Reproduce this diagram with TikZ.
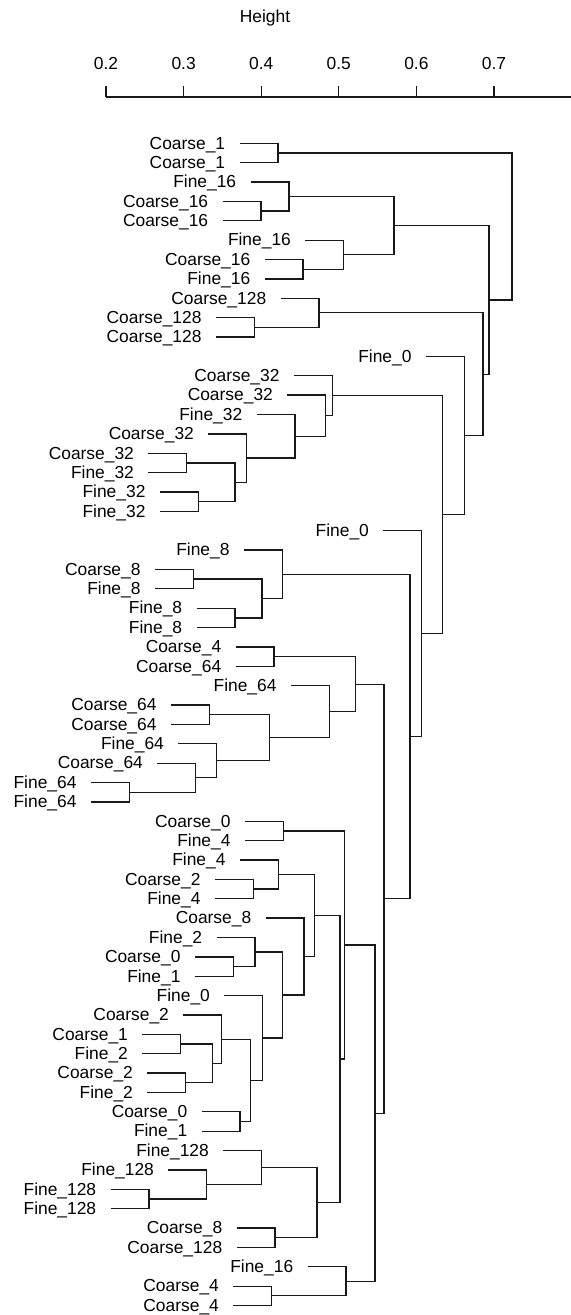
\documentclass[tikz,border=0pt]{standalone}
\usepackage{fontspec}
\setmainfont{Liberation Sans}
\usepackage{tikz}
\usepackage{xcolor}
\definecolor{noirtrait}{RGB}{25, 25, 25}
\tikzset{
  trait/.style={draw=noirtrait, line width=0.65pt},
  etiquette/.style={anchor=east, inner xsep=7pt, inner ysep=0pt,
                    text height=5.8pt, text depth=0pt,
                    font=\fontsize{8.7}{10}\selectfont},
  graduation/.style={inner sep=0pt, text height=5.8pt, text depth=0pt,
                     font=\fontsize{8.7}{10}\selectfont}
}
% une feuille : indice, texte, hauteur du noeud parent
\newcommand{\feuille}[3]{%
  \coordinate (f#1) at ({#3-0.0495},#1);
  \node[etiquette] (et#1) at (f#1) {#2};
}
% une jonction : nom, enfant 1, enfant 2, hauteur
\newcommand{\jonction}[4]{%
  \coordinate (hx) at (#4,0);
  \path (#2) -- (#3) coordinate[midway] (mil);
  \coordinate (#1) at (mil -| hx);
  \draw[trait] (#2) -- (#2 -| hx) -- (#3 -| hx) -- (#3);
}

\begin{document}
\begin{tikzpicture}[x=388pt, y={(0pt,-9.685pt)}]
  \useasboundingbox (0.0634,-7.398) rectangle (0.7992,60.49);

  % axe des hauteurs
  \node[graduation] (titre) at (0.4049,-6.536) {Height};
  \coordinate (axe0) at (0.2,-2.39);
  \coordinate (axe1) at (0.7992,-2.39);
  \draw[trait] (axe0) -- (axe1);
  \foreach \v [count=\k] in {0.2,0.3,0.4,0.5,0.6,0.7}{
    \draw[trait] (\v,-2.39) -- (\v,-2.958);
    \node[graduation] (grad\k) at (\v,-4.11) {\v};
  }

  % feuilles
  \foreach \k/\nom/\h in {
     0/Coarse\_1/0.4216,   1/Coarse\_1/0.4216,   2/Fine\_16/0.4358,
     3/Coarse\_16/0.3997,  4/Coarse\_16/0.3997,  5/Fine\_16/0.5063,
     6/Coarse\_16/0.4539,  7/Fine\_16/0.4539,    8/Coarse\_128/0.4745,
     9/Coarse\_128/0.3911, 10/Coarse\_128/0.3911, 11/Fine\_0/0.6617,
    12/Coarse\_32/0.4916, 13/Coarse\_32/0.4831, 14/Fine\_32/0.4436,
    15/Coarse\_32/0.3813, 16/Coarse\_32/0.3040, 17/Fine\_32/0.3040,
    18/Fine\_32/0.3189,   19/Fine\_32/0.3189,   20/Fine\_0/0.6068,
    21/Fine\_8/0.4272,    22/Coarse\_8/0.3125,  23/Fine\_8/0.3125,
    24/Fine\_8/0.3662,    25/Fine\_8/0.3662,    26/Coarse\_4/0.4165,
    27/Coarse\_64/0.4165, 28/Fine\_64/0.4878,   29/Coarse\_64/0.3331,
    30/Coarse\_64/0.3331, 31/Fine\_64/0.3427,   32/Coarse\_64/0.3156,
    33/Fine\_64/0.2300,   34/Fine\_64/0.2300,   35/Coarse\_0/0.4285,
    36/Fine\_4/0.4285,    37/Fine\_4/0.4220,    38/Coarse\_2/0.3898,
    39/Fine\_4/0.3898,    40/Coarse\_8/0.4552,  41/Fine\_2/0.3920,
    42/Coarse\_0/0.3640,  43/Fine\_1/0.3640,    44/Fine\_0/0.4019,
    45/Coarse\_2/0.3491,  46/Coarse\_1/0.2963,  47/Fine\_2/0.2963,
    48/Coarse\_2/0.3027,  49/Fine\_2/0.3027,    50/Coarse\_0/0.3727,
    51/Fine\_1/0.3727,    52/Fine\_128/0.4006,  53/Fine\_128/0.3298,
    54/Fine\_128/0.2554,  55/Fine\_128/0.2554,  56/Coarse\_8/0.4178,
    57/Coarse\_128/0.4178, 58/Fine\_16/0.5093,  59/Coarse\_4/0.4135,
    60/Coarse\_4/0.4135}{
    \feuille{\k}{\nom}{\h}
  }

  % groupe du haut
  \jonction{a1}{f0}{f1}{0.4216}
  \jonction{a2}{f3}{f4}{0.3997}
  \jonction{a3}{f2}{a2}{0.4358}
  \jonction{a4}{f6}{f7}{0.4539}
  \jonction{a5}{f5}{a4}{0.5063}
  \jonction{a6}{a3}{a5}{0.5711}
  \jonction{a7}{f9}{f10}{0.3911}
  \jonction{a8}{f8}{a7}{0.4745}

  % groupe 32
  \jonction{b1}{f16}{f17}{0.3040}
  \jonction{b2}{f18}{f19}{0.3189}
  \jonction{b3}{b1}{b2}{0.3662}
  \jonction{b4}{f15}{b3}{0.3813}
  \jonction{b5}{f14}{b4}{0.4436}
  \jonction{b6}{f13}{b5}{0.4831}
  \jonction{b7}{f12}{b6}{0.4916}

  % groupe 8
  \jonction{c1}{f22}{f23}{0.3125}
  \jonction{c2}{f24}{f25}{0.3662}
  \jonction{c3}{c1}{c2}{0.4010}
  \jonction{c4}{f21}{c3}{0.4272}

  % groupe 64
  \jonction{d1}{f26}{f27}{0.4165}
  \jonction{d2}{f29}{f30}{0.3331}
  \jonction{d3}{f33}{f34}{0.2300}
  \jonction{d4}{f32}{d3}{0.3156}
  \jonction{d5}{f31}{d4}{0.3427}
  \jonction{d6}{d2}{d5}{0.4104}
  \jonction{d7}{f28}{d6}{0.4878}
  \jonction{d8}{d1}{d7}{0.5218}

  % groupe du bas
  \jonction{g1}{f35}{f36}{0.4285}
  \jonction{g2}{f38}{f39}{0.3898}
  \jonction{g3}{f37}{g2}{0.4220}
  \jonction{g4}{f42}{f43}{0.3640}
  \jonction{g5}{f41}{g4}{0.3920}
  \jonction{g6}{f46}{f47}{0.2963}
  \jonction{g7}{f48}{f49}{0.3027}
  \jonction{g8}{g6}{g7}{0.3370}
  \jonction{g9}{f45}{g8}{0.3491}
  \jonction{g10}{f50}{f51}{0.3727}
  \jonction{g11}{g9}{g10}{0.3865}
  \jonction{g12}{f44}{g11}{0.4019}
  \jonction{g13}{g5}{g12}{0.4272}
  \jonction{g14}{f40}{g13}{0.4552}
  \jonction{g15}{g3}{g14}{0.4684}
  \jonction{g16}{f54}{f55}{0.2554}
  \jonction{g17}{f53}{g16}{0.3298}
  \jonction{g18}{f52}{g17}{0.4006}
  \jonction{g19}{f56}{f57}{0.4178}
  \jonction{g20}{g18}{g19}{0.4719}
  \jonction{g21}{g15}{g20}{0.5015}
  \jonction{g22}{g1}{g21}{0.5071}
  \jonction{g23}{f59}{f60}{0.4135}
  \jonction{g24}{f58}{g23}{0.5093}
  \jonction{g25}{g22}{g24}{0.5466}

  % racine
  \jonction{r1}{d8}{g25}{0.5582}
  \jonction{r2}{c4}{r1}{0.5918}
  \jonction{r3}{f20}{r2}{0.6068}
  \jonction{r4}{b7}{r3}{0.6334}
  \jonction{r5}{f11}{r4}{0.6617}
  \jonction{r6}{a8}{r5}{0.6858}
  \jonction{r7}{a6}{r6}{0.6936}
  \jonction{r8}{a1}{r7}{0.7232}
\end{tikzpicture}
\end{document}
